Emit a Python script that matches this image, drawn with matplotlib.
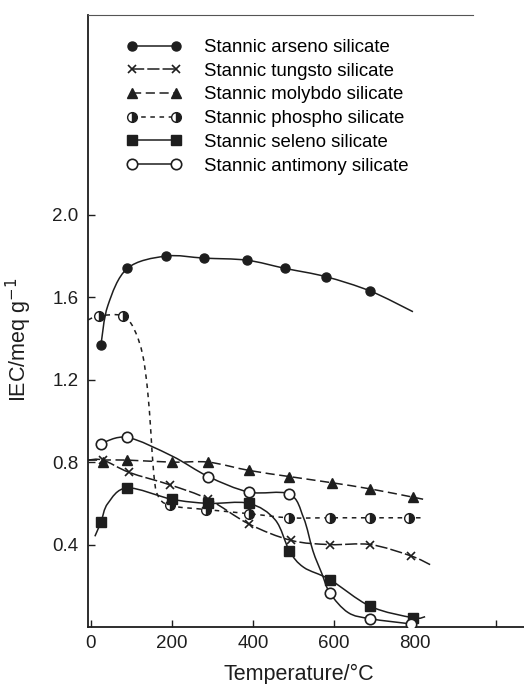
import matplotlib.pyplot as plt
import numpy as np
from matplotlib.legend_handler import HandlerLine2D
from matplotlib.lines import Line2D
from matplotlib.patches import PathPatch
from matplotlib.path import Path

plt.rcParams['font.family'] = ['Liberation Sans', 'DejaVu Sans']

# measured points: temperature (°C) vs IEC (meq/g)
arseno_t = [25, 90, 185, 280, 385, 480, 580, 690]
arseno_iec = [1.37, 1.74, 1.80, 1.79, 1.78, 1.74, 1.70, 1.63]
tungsto_t = [30, 95, 195, 290, 390, 495, 590, 690, 790]
tungsto_iec = [0.81, 0.75, 0.69, 0.62, 0.50, 0.42, 0.40, 0.40, 0.345]
molybdo_t = [30, 90, 200, 290, 390, 490, 595, 690, 795]
molybdo_iec = [0.80, 0.81, 0.80, 0.80, 0.76, 0.73, 0.70, 0.67, 0.63]
phospho_t = [20, 80, 195, 285, 390, 490, 590, 690, 785]
phospho_iec = [1.51, 1.51, 0.59, 0.57, 0.55, 0.53, 0.53, 0.53, 0.53]
seleno_t = [25, 90, 200, 290, 390, 490, 590, 690, 795]
seleno_iec = [0.51, 0.675, 0.62, 0.60, 0.60, 0.37, 0.23, 0.10, 0.045]
antimony_t = [25, 90, 290, 390, 490, 590, 690, 790]
antimony_iec = [0.89, 0.92, 0.73, 0.655, 0.645, 0.165, 0.04, 0.015]

# hand-drawn trend curves
arseno_curve_t = [25, 42, 90, 185, 280, 385, 480, 580, 690, 795]
arseno_curve_iec = [1.37, 1.56, 1.74, 1.80, 1.79, 1.78, 1.74, 1.70, 1.63, 1.53]
tungsto_curve_t = [-7, 30, 95, 195, 290, 390, 495, 590, 690, 790, 840]
tungsto_curve_iec = [0.81, 0.81, 0.75, 0.69, 0.62, 0.50, 0.42, 0.40, 0.40, 0.345, 0.30]
molybdo_curve_t = [-7, 30, 90, 200, 290, 390, 490, 595, 690, 795, 820]
molybdo_curve_iec = [0.81, 0.81, 0.81, 0.80, 0.80, 0.76, 0.73, 0.70, 0.67, 0.63, 0.62]
phospho_curve_t = [-7, 20, 80, 108, 128, 140, 148, 155, 165, 195, 285, 390, 490, 590, 690, 785, 820]
phospho_curve_iec = [1.49, 1.51, 1.51, 1.44, 1.32, 1.15, 0.95, 0.75, 0.64, 0.59, 0.57, 0.55, 0.53, 0.53, 0.53, 0.53, 0.53]
seleno_curve_t = [10, 25, 42, 90, 200, 290, 390, 455, 490, 525, 590, 690, 795, 825]
seleno_curve_iec = [0.44, 0.51, 0.60, 0.675, 0.62, 0.60, 0.60, 0.52, 0.37, 0.29, 0.23, 0.10, 0.045, 0.05]
antimony_curve_t = [25, 90, 200, 290, 390, 490, 525, 548, 570, 590, 635, 690, 790]
antimony_curve_iec = [0.89, 0.92, 0.83, 0.73, 0.655, 0.645, 0.53, 0.37, 0.26, 0.165, 0.07, 0.04, 0.015]

labels = ['Stannic arseno silicate', 'Stannic tungsto silicate', 'Stannic molybdo silicate',
          'Stannic phospho silicate', 'Stannic seleno silicate', 'Stannic antimony silicate']

INK = '#1e1e1e'


def smooth_path(t, v):
    # Catmull-Rom through the traced points, as cubic Bezier segments
    pts = np.column_stack([t, v]).astype(float)
    n = len(pts)
    verts, codes = [pts[0]], [Path.MOVETO]
    for i in range(n - 1):
        p0 = pts[i - 1] if i > 0 else pts[i]
        p1, p2 = pts[i], pts[i + 1]
        p3 = pts[i + 2] if i + 2 < n else pts[i + 1]
        verts += [p1 + (p2 - p0) / 6, p2 - (p3 - p1) / 6, p2]
        codes += [Path.CURVE4] * 3
    return Path(verts, codes)


series = [
    (arseno_t, arseno_iec, arseno_curve_t, arseno_curve_iec,
     dict(marker='o', mfc=INK, ms=6.5), '-'),
    (tungsto_t, tungsto_iec, tungsto_curve_t, tungsto_curve_iec,
     dict(marker='x', mfc=INK, ms=6, mew=1.2), (0, (8, 2))),
    (molybdo_t, molybdo_iec, molybdo_curve_t, molybdo_curve_iec,
     dict(marker='^', mfc=INK, ms=7), (0, (6, 3))),
    (phospho_t, phospho_iec, phospho_curve_t, phospho_curve_iec,
     dict(marker='o', mfc=INK, ms=7, fillstyle='right', markerfacecoloralt='white'), (0, (3, 3))),
    (seleno_t, seleno_iec, seleno_curve_t, seleno_curve_iec,
     dict(marker='s', mfc=INK, ms=6.5), '-'),
    (antimony_t, antimony_iec, antimony_curve_t, antimony_curve_iec,
     dict(marker='o', mfc='white', ms=7.5, mew=1.2), '-'),
]

fig = plt.figure(figsize=(5.24, 6.84), dpi=100)
ax = fig.add_axes([88 / 524, 57 / 684, 436 / 524, 612 / 684])

handles = []
for t, v, ct, cv, mstyle, ls in series:
    ax.add_patch(PathPatch(smooth_path(ct, cv), fill=False, edgecolor=INK, lw=1.1, linestyle=ls, zorder=2))
    ax.plot(t, v, linestyle='none', color=INK, mec=INK, zorder=3, **mstyle)
    handles.append(Line2D([], [], color=INK, lw=1.1, linestyle=ls, mec=INK, **mstyle))

ax.set_xlim(-7, 1069)
ax.set_ylim(0, 2.97)
ax.set_xticks([0, 200, 400, 600, 800, 1000])
ax.set_xticklabels(['0', '200', '400', '600', '800', ''])
ax.set_yticks([0.4, 0.8, 1.2, 1.6, 2.0])
ax.set_yticklabels(['0.4', '0.8', '1.2', '1.6', '2.0'])
ax.tick_params(axis='both', direction='in', length=5, width=1, labelsize=13.5, colors=INK)
ax.tick_params(axis='y', pad=7)
ax.tick_params(axis='x', pad=6)

ax.spines['right'].set_visible(False)
ax.spines['top'].set_bounds(-7, 943)
ax.spines['top'].set_color('#555555')
for side in ('left', 'bottom'):
    ax.spines[side].set_linewidth(1.3)
    ax.spines[side].set_color(INK)

ax.set_xlabel('Temperature/°C', fontsize=15.5, color=INK)
ax.xaxis.set_label_coords(0.484, -0.06)
ax.set_ylabel('IEC/meq g$^{-1}$', fontsize=15.5, color=INK)
ax.yaxis.set_label_coords(-0.125, 0.47)

fig.legend(handles, labels, loc='upper left', bbox_to_anchor=(115 / 524, 1 - 39 / 684),
           bbox_transform=fig.transFigure, frameon=False, fontsize=13.4, numpoints=2,
           handlelength=4.2, handletextpad=0.6, labelspacing=0.36, borderpad=0, borderaxespad=0,
           handler_map={Line2D: HandlerLine2D(marker_pad=0.9)})

fig.savefig('out.png', dpi=100)
